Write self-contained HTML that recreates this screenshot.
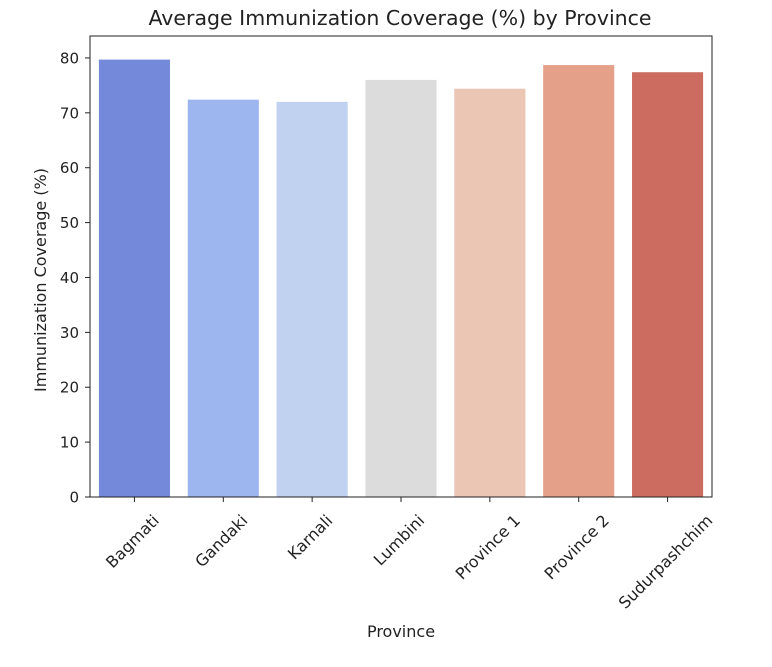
<!DOCTYPE html>
<html><head><meta charset="utf-8"><style>
body{margin:0;background:#fff;font-family:"Liberation Sans","DejaVu Sans",sans-serif;}
svg text{font-family:"DejaVu Sans","Liberation Sans",sans-serif;fill:#222;}
</style></head><body>
<svg id="chart" width="772" height="662" xmlns="http://www.w3.org/2000/svg"></svg>
<script>
const categories=["Bagmati","Gandaki","Karnali","Lumbini","Province 1","Province 2","Sudurpashchim"];
const values=[79.7,72.4,72.0,76.0,74.4,78.7,77.4];
const colors=["#7489d9","#9db6ef","#c1d2f0","#dcdcdc","#ecc6b4","#e4a089","#cc6b5f"];
const yTicks=[0,10,20,30,40,50,60,70,80];
const L=90,R=712,T=36,B=497,yMax=84;
const svg=document.getElementById('chart');
const NS='http://www.w3.org/2000/svg';
function y(v){return B-(v/yMax)*(B-T);}
const step=(R-L)/categories.length;
function x(i){return L+step*(i+0.5);}
function mk(tag,attrs,parent){const e=document.createElementNS(NS,tag);for(const k in attrs)e.setAttribute(k,attrs[k]);(parent||svg).appendChild(e);return e;}
categories.forEach((c,i)=>{
 const r=mk('rect',{x:x(i)-step*0.4,y:y(values[i]),width:step*0.8,height:B-y(values[i]),fill:colors[i]});
 
 
 const tk=mk('line',{x1:x(i),x2:x(i),y1:B,y2:B+5,stroke:'#222','stroke-width':1});
 
 
 const t=mk('text',{x:0,y:5.5,'font-size':16,'text-anchor':'middle'});
 t.textContent=c;
 
 
 const w=t.getComputedTextLength();
 const h=(w+16)*0.7071;
 t.setAttribute('transform',`translate(${x(i)-2},${B+15+h/2}) rotate(-45)`);
});
yTicks.forEach(v=>{
 const tk=mk('line',{x1:L-5,x2:L,y1:y(v),y2:y(v),stroke:'#222','stroke-width':1});
 
 
 const t=mk('text',{x:L-11,y:y(v)+5.5,'font-size':15,'text-anchor':'end'});
 t.textContent=v;
 
 
});
const fr=mk('rect',{x:L,y:T,width:R-L,height:B-T,fill:'none',stroke:'#222','stroke-width':1});


const ti=mk('text',{x:400,y:25,'font-size':20.5,'text-anchor':'middle'});
ti.textContent='Average Immunization Coverage (%) by Province';


const yl=mk('text',{x:0,y:0,'font-size':16,'text-anchor':'middle',transform:`translate(46,280) rotate(-90)`});
yl.textContent='Immunization Coverage (%)';


const xl=mk('text',{x:401,y:637,'font-size':16,'text-anchor':'middle'});
xl.textContent='Province';


</script>
</body></html>
